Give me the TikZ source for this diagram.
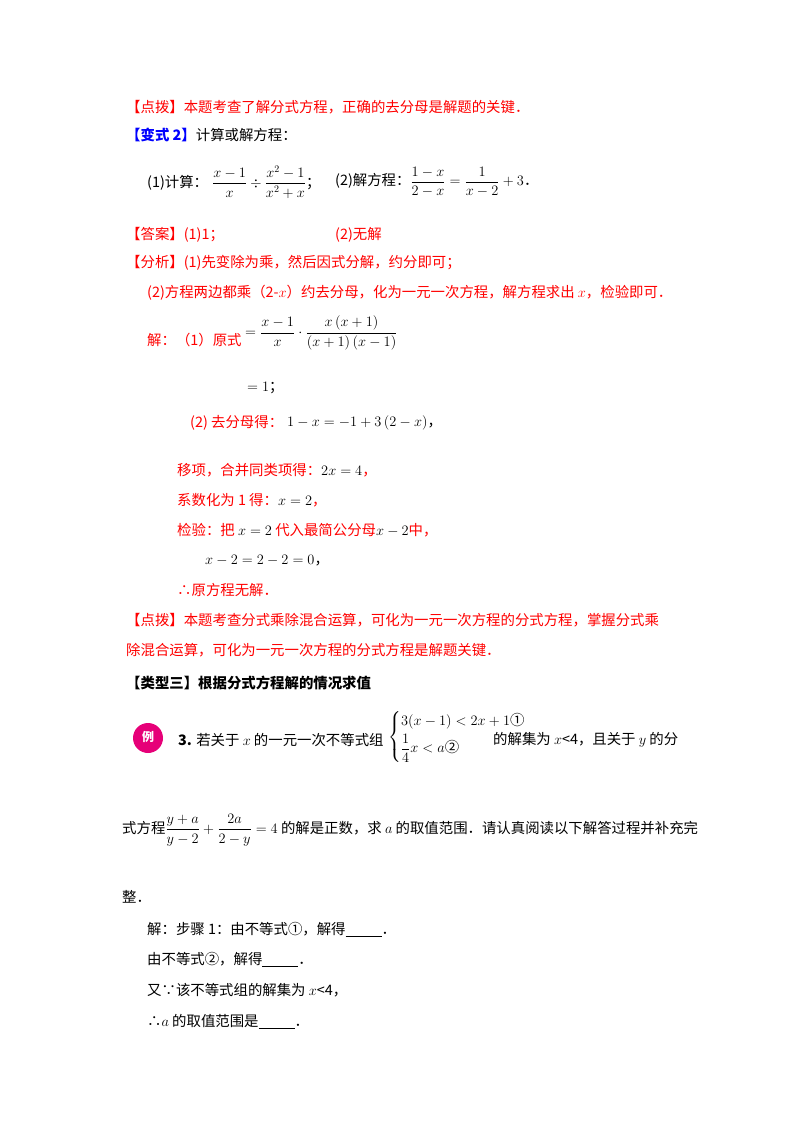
\documentclass[tikz,border=0pt]{standalone}
\usepackage{fontspec}
\usepackage{amsmath}
\setmainfont{Noto Sans CJK SC}
\definecolor{rd}{RGB}{255,0,0}
\definecolor{bl}{RGB}{0,0,255}
\definecolor{mg}{RGB}{230,0,120}
\begin{document}
\begin{tikzpicture}[x=1pt,y=-1pt,
  tx/.style={anchor=west,inner sep=0pt,font=\fontsize{14.4}{17}\selectfont},
  rt/.style={tx,text=rd}]
\useasboundingbox (0,0) rectangle (800,1132);
\node[rt] (a1) at (126,107) {【点拨】本题考查了解分式方程，正确的去分母是解题的关键．};
\node[tx] (a2) at (126,135) {\textcolor{bl}{\textbf{【变式 2】}}计算或解方程：};
\node[tx] (a3) at (147,182) {(1)计算：$\;\dfrac{x-1}{x}\div\dfrac{x^2-1}{x^2+x}$；};
\node[tx] (a4) at (335,182) {(2)解方程：$\dfrac{1-x}{2-x}=\dfrac{1}{x-2}+3$．};
\node[rt] (a5) at (126,235) {【答案】(1)1；};
\node[rt] (a6) at (335,235) {(2)无解};
\node[rt] (a7) at (126,263) {【分析】(1)先变除为乘，然后因式分解，约分即可；};
\node[rt] (a8) at (147,293) {(2)方程两边都乘（2-$x$）约去分母，化为一元一次方程，解方程求出 $x$，检验即可．};
\node[rt] (a9) at (147,340) {解：（1）原式};
\node[tx] (m1) at (245,333) {$=\dfrac{x-1}{x}\cdot\dfrac{x\left(x+1\right)}{\left(x+1\right)\left(x-1\right)}$};
\node[tx] (m2) at (247,388) {$=1$；};
\node[rt] (b1) at (190,423) {(2) 去分母得：};
\node[tx] (m3) at (287,423) {$1-x=-1+3\left(2-x\right)$，};
\node[rt] (b2) at (177,470) {移项，合并同类项得：\textcolor{black}{$2x=4$}，};
\node[rt] (b3) at (177,500) {系数化为 1 得：\textcolor{black}{$x=2$}，};
\node[rt] (b4) at (177,530) {检验：把 \textcolor{black}{$x=2$} 代入最简公分母\textcolor{black}{$x-2$}中，};
\node[tx] (b5) at (205,561) {$x-2=2-2=0$，};
\node[rt] (b6) at (177,590) {∴原方程无解．};
\node[rt] (c1) at (126,620) {【点拨】本题考查分式乘除混合运算，可化为一元一次方程的分式方程，掌握分式乘};
\node[rt] (c2) at (126,650) {除混合运算，可化为一元一次方程的分式方程是解题关键．};
\node[tx] (c3) at (126,683) {\textbf{【类型三】根据分式方程解的情况求值}};
\fill[mg] (148,738) circle (15);
\node[text=white,font=\fontsize{12}{14}\selectfont\bfseries] (li) at (148,737) {例};
\node[tx] (d1) at (178,740) {\textbf{3.} 若关于 $x$ 的一元一次不等式组};
\node[tx] (d2) at (388,737) {$\begin{cases}3(x-1)<2x+1\text{①}\\[2pt] \dfrac14x<a\text{②}\end{cases}$};
\node[tx] (e1) at (493,740) {的解集为 $x$<4，且关于 $y$ 的分};
\node[tx] (e2) at (122,830) {式方程$\dfrac{y+a}{y-2}+\dfrac{2a}{2-y}=4$ 的解是正数，求 $a$ 的取值范围．请认真阅读以下解答过程并补充完};
\node[tx] (e3) at (122,897) {整．};
\node[tx] (f1) at (147,930) {解：步骤 1：由不等式①，解得\underline{\hspace{36pt}}．};
\node[tx] (f2) at (147,960) {由不等式②，解得\underline{\hspace{36pt}}．};
\node[tx] (f3) at (147,990) {又∵该不等式组的解集为 $x$<4，};
\node[tx] (f4) at (147,1022) {∴$a$ 的取值范围是\underline{\hspace{36pt}}．};
\end{tikzpicture}
\end{document}
